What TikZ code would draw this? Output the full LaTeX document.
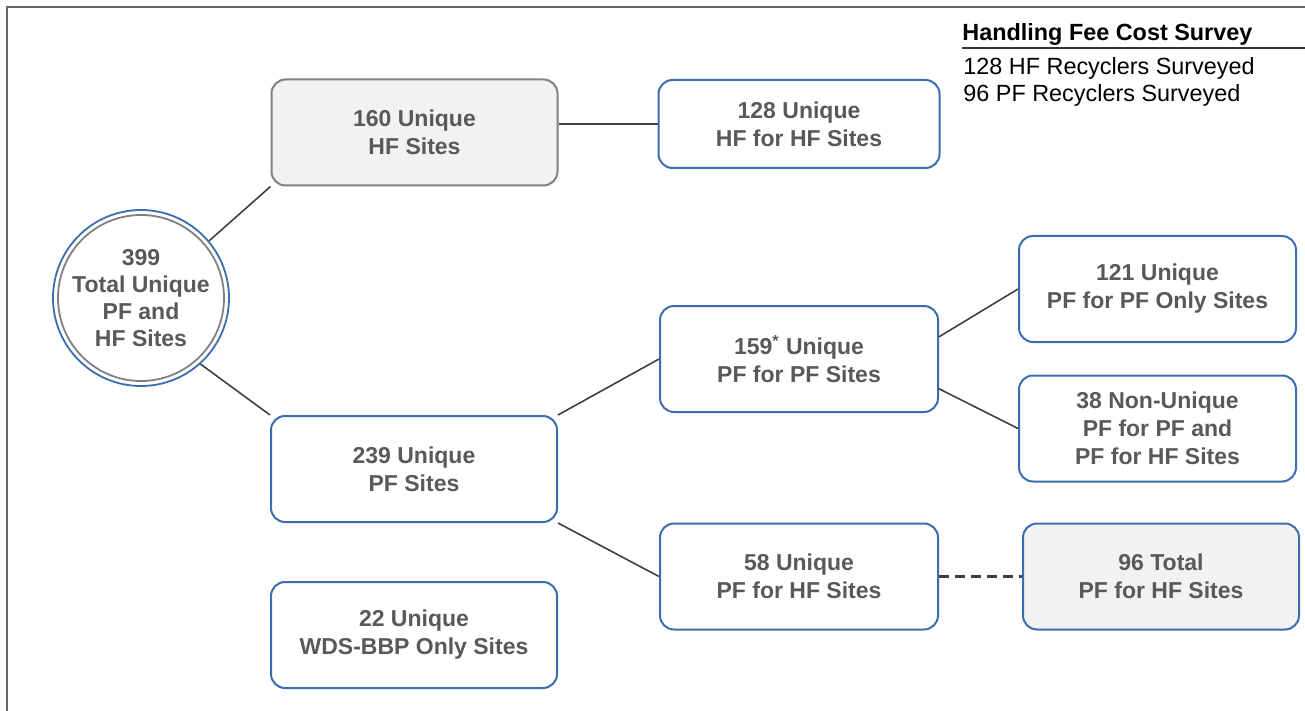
\documentclass[tikz,border=0pt]{standalone}
\usepackage{fontspec}
\setmainfont{Liberation Sans}
\usetikzlibrary{positioning}

\definecolor{boxblue}{RGB}{58,110,176}
\definecolor{boxgray}{RGB}{242,242,242}
\definecolor{edgegray}{RGB}{128,128,128}
\definecolor{txtgray}{RGB}{89,89,89}
\definecolor{linegray}{RGB}{64,64,64}

\begin{document}
\begin{tikzpicture}[
        x=0.5pt, y=-0.5pt,
        site/.style={rectangle, rounded corners=7pt, draw=boxblue, line width=1pt, fill=white, minimum width=143pt, minimum height=53pt, align=center, text=txtgray, font=\fontsize{11.5}{14}\selectfont\bfseries},
        shaded/.style={fill=boxgray},
        hub/.style={circle, draw=boxblue, line width=0.9pt, minimum size=88pt, inner sep=0pt, align=center, text=txtgray, font=\fontsize{11.5}{13.5}\selectfont\bfseries},
        link/.style={draw=linegray, line width=0.8pt},
        legend/.style={anchor=base west, inner sep=0pt, font=\fontsize{11.7}{13.5}\selectfont},
        frame/.style={draw=gray!80!black, line width=1.2pt},
    ]
        \useasboundingbox (0,0) rectangle (1305,711);
        \draw[frame] (7,711) -- (7,7) -- (1305,7);

        % tree of sites
        \node[hub] (all) at (141,298) {399\\Total Unique\\PF and\\HF Sites};
        \draw[edgegray, line width=0.9pt] (all.center) circle (41.5pt);

        \node[site, shaded, draw=edgegray] (hf) at (414.5,132.5) {160 Unique\\HF Sites};
        \node[site, minimum width=140.5pt, minimum height=44pt, right=49.5pt of hf, yshift=4.25pt] (hfhf) {128 Unique\\HF for HF Sites};
        \node[site] (pf) at (414,469) {239 Unique\\PF Sites};
        \node[site] (wds) at (414,635) {22 Unique\\WDS-BBP Only Sites};
        \node[site, minimum width=139pt] (pfpf) at (799,359) {159\textsuperscript{*} Unique\\PF for PF Sites};
        \node[site, minimum width=139pt] (pfhf) at (799,576.5) {58 Unique\\PF for HF Sites};
        \node[site, minimum width=138.5pt] (pfonly) at (1157.5,289) {121 Unique\\PF for PF Only Sites};
        \node[site, minimum width=138.5pt] (nonuniq) at (1157.5,428.5) {38 Non-Unique\\PF for PF and\\PF for HF Sites};
        \node[site, shaded, minimum width=138pt, right=41.5pt of pfhf] (pftotal) {96 Total\\PF for HF Sites};

        \draw[link] (all.40) -- (hf.south west);
        \draw[link] (hf.east |- hfhf.west) -- (hfhf.west);
        \draw[link] (all.-48) -- (pf.north west);
        \draw[link] (pf.north east) -- (pfpf.west);
        \draw[link] (pf.south east) -- (pfhf.west);
        \draw[link] (pfpf.9) -- (pfonly.west);
        \draw[link] (pfpf.-12) -- (nonuniq.west);
        \draw[link, line width=1.3pt, dash pattern=on 5pt off 3pt] (pfhf.east) -- (pftotal.west);

        % survey legend
        \node[legend, font=\fontsize{11.7}{13.5}\selectfont\bfseries] (survey) at (962,41) {Handling Fee Cost Survey};
        \coordinate (survey end) at (1305,48);
        \draw[line width=0.9pt, black!80] (survey.west |- survey end) -- (survey end);
        \node[legend] (hfcount) at (963,75) {128 HF Recyclers Surveyed};
        \node[legend] (pfcount) at (963,102) {96 PF Recyclers Surveyed};
    \end{tikzpicture}
\end{document}
